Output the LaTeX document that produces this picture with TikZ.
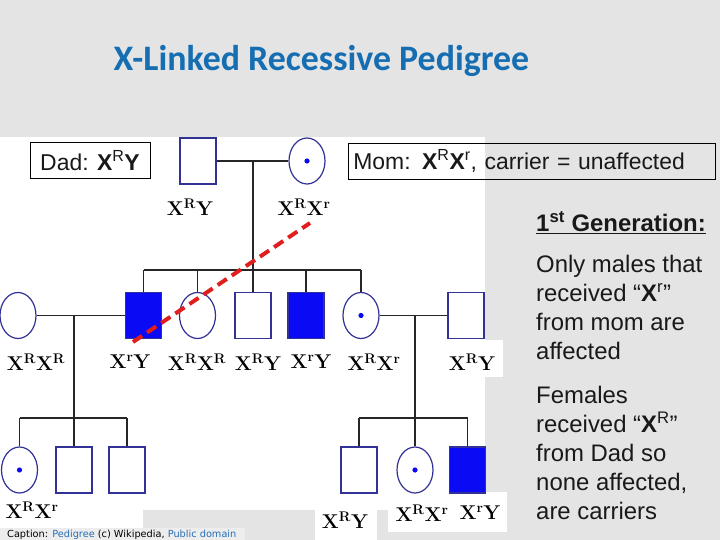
\documentclass[tikz,border=0pt]{standalone}
\usepackage{fontspec}
\usepackage{tikz}
\usetikzlibrary{shapes.geometric}
\newfontfamily\arial{Liberation Sans}
\newfontfamily\calibri{Carlito}
\newfontfamily\tahoma{DejaVu Sans}

\definecolor{slidebg}{RGB}{228,228,228}
\definecolor{titleblue}{RGB}{22,110,178}
\definecolor{pedline}{RGB}{50,50,150}
\definecolor{pedblue}{RGB}{10,10,245}
\definecolor{dashred}{RGB}{225,30,30}
\definecolor{notetext}{RGB}{25,25,25}
\definecolor{linkblue}{RGB}{40,110,180}

\tikzset{
  male/.style={draw=pedline, line width=1.2bp, minimum width=36bp, minimum height=46bp, inner sep=0pt, fill=white},
  female/.style={ellipse, draw=pedline, line width=1.2bp, minimum width=36bp, minimum height=46bp, inner sep=0pt, fill=white},
  affected/.style={fill=pedblue},
  carrier/.style={path picture={\fill[pedblue] (path picture bounding box.center) circle (2.6bp);}},
  geno/.style={font=\fontsize{20}{20}\selectfont\bfseries, inner sep=1bp},
  link/.style={line width=1.5bp, black!85},
  sibs/.style={line width=2bp, black!85},
  infobox/.style={draw=black, line width=0.8bp, font=\arial\fontsize{23}{23}\selectfont, text=notetext, inner xsep=5bp, minimum height=36bp},
  note/.style={font=\arial\fontsize{24}{29}\selectfont, text=notetext, align=left, inner sep=0pt, anchor=north west}
}

\begin{document}
\begin{tikzpicture}[x=1bp, y=-1bp]

\fill[slidebg] (0,0) rectangle (720,540);
\useasboundingbox (0,0) rectangle (720,540);

% white picture area
\fill[white] (0,137) rectangle (485,510);
\fill[white] (0,510) rectangle (143,528);
\fill[black!7] (0,528) rectangle (245,540);
\fill[white] (443,340) rectangle (503,377);
\fill[white] (315,510) rectangle (377,540);
\fill[white] (388,492) rectangle (507,532);

\node[font=\calibri\bfseries\fontsize{36}{36}\selectfont, text=titleblue] (title) at (321.5,61) {X-Linked Recessive Pedigree};

% generation I
\node[male] (dad) at (198,161) {};
\node[female, carrier] (mom) at (307,161) {};
\coordinate (m1) at (253,161);
\coordinate (s1) at (253,270);

% generation II
\node[female] (sp1) at (18,315.5) {};
\node[male, affected] (c1) at (143.5,315.5) {};
\node[female] (c2) at (197.5,315.5) {};
\node[male] (c3) at (253,315.5) {};
\node[male, affected] (c4) at (306,315.5) {};
\node[female, carrier] (c5) at (361,315.5) {};
\node[male] (sp5) at (466,315.5) {};
\coordinate (m2) at (74,315.5);
\coordinate (s2) at (74,418);
\coordinate (m3) at (415,315.5);
\coordinate (s3) at (415,418);

% generation III
\node[female, carrier] (g1) at (19.5,470) {};
\node[male] (g2) at (74,470) {};
\node[male] (g3) at (127,470) {};
\node[male] (g4) at (359,470) {};
\node[female, carrier] (g5) at (415,470) {};
\node[male, affected] (g6) at (467.5,470) {};

\draw[link] (dad.east) -- (mom.west);
\draw[link] (m1) -- (s1);
\draw[sibs] (c1 |- s1) -- (c5 |- s1);
\foreach \k in {c1,c2,c4,c5} \draw[link] (\k |- s1) -- (\k.north);
\draw[link] (s1) -- (c3.north);

\draw[link] (sp1.east) -- (c1.west);
\draw[link] (m2) -- (s2);
\draw[sibs] (g1 |- s2) -- (g3 |- s2);
\foreach \k in {g1,g3} \draw[link] (\k |- s2) -- (\k.north);
\draw[link] (s2) -- (g2.north);

\draw[link] (c5.east) -- (sp5.west);
\draw[link] (m3) -- (s3);
\draw[sibs] (g4 |- s3) -- (g6 |- s3);
\foreach \k in {g4,g6} \draw[link] (\k |- s3) -- (\k.north);
\draw[link] (s3) -- (g5.north);

% genotypes
\node[geno] (ldad) at (190,207) {X\textsuperscript{R}Y};
\node[geno] (lmom) at (304,207) {X\textsuperscript{R}X\textsuperscript{r}};
\node[geno] (lsp1) at (36,362) {X\textsuperscript{R}X\textsuperscript{R}};
\node[geno] (lc1) at (130,362) {X\textsuperscript{r}Y};
\node[geno] (lc2) at (197,362) {X\textsuperscript{R}X\textsuperscript{R}};
\node[geno] (lc3) at (258,362) {X\textsuperscript{R}Y};
\node[geno] (lc4) at (311,362) {X\textsuperscript{r}Y};
\node[geno] (lc5) at (374,362) {X\textsuperscript{R}X\textsuperscript{r}};
\node[geno] (lsp5) at (472,362) {X\textsuperscript{R}Y};
\node[geno] (lg1) at (32,510) {X\textsuperscript{R}X\textsuperscript{r}};
\node[geno] (lg4) at (345,520) {X\textsuperscript{R}Y};
\node[geno] (lg5) at (422,513) {X\textsuperscript{R}X\textsuperscript{r}};
\node[geno] (lg6) at (480,513) {X\textsuperscript{r}Y};

% path of the recessive allele
\draw[dashred, line width=4bp, dash pattern=on 11bp off 6bp] (133,342) -- (310,223);

% notes
\node[infobox, fill=white, minimum width=120bp] (dadbox) at (90,160.5) {Dad: \textbf{X}\textsuperscript{R}\textbf{Y}};
\node[infobox, anchor=west, text width=357bp, align=left] (mombox) at (348,161) {Mom: \textbf{X}\textsuperscript{R}\textbf{X}\textsuperscript{r}, carrier = unaffected};

\node[note] (gen) at (536,211) {\underline{\textbf{1\textsuperscript{st} Generation:}}};
\node[note] (males) at (536,255) {Only males that\\received “\textbf{X}\textsuperscript{r}”\\from mom are\\affected};
\node[note] (females) at (536,386) {Females\\received “\textbf{X}\textsuperscript{R}”\\from Dad so\\none affected,\\are carriers};

\node[font=\tahoma\fontsize{9.8}{9.8}\selectfont, anchor=west, inner sep=0pt] (caption) at (7,534.5) {Caption: \textcolor{linkblue}{Pedigree} (c) Wikipedia, \textcolor{linkblue}{Public domain}};

\end{tikzpicture}
\end{document}
